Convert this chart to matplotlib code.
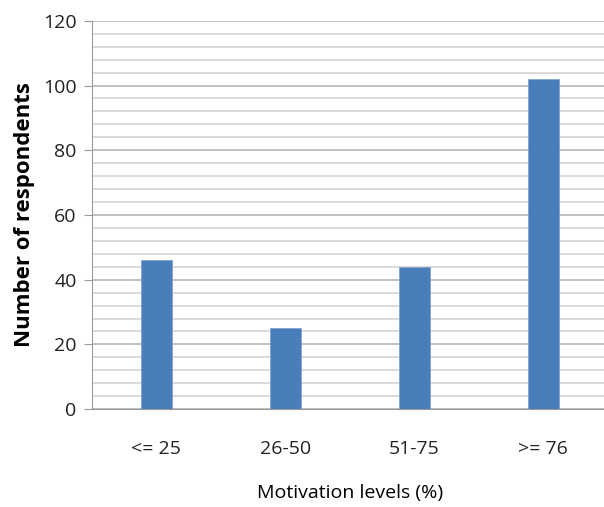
import matplotlib.pyplot as plt
from matplotlib.ticker import MultipleLocator

# data
categories = ["<= 25", "26-50", "51-75", ">= 76"]
respondents = [46, 25, 44, 102]

plt.rcParams['font.family'] = ['Open Sans', 'DejaVu Sans']

fig = plt.figure(figsize=(6.04, 5.07), dpi=100)
ax = fig.add_axes([0.152, 0.193, 0.854, 0.766])

x = range(len(categories))
ax.bar(x, respondents, width=0.24, color='#4a7ebb', edgecolor='#7fa3d0', linewidth=0.6, zorder=3)

ax.set_xlim(-0.5, 3.5)
ax.set_ylim(0, 120)
ax.yaxis.set_major_locator(MultipleLocator(20))
ax.yaxis.set_minor_locator(MultipleLocator(4))
ax.grid(axis='y', which='major', color='#c0c0c0', linewidth=1.4, zorder=0)
ax.grid(axis='y', which='minor', color='#dadada', linewidth=1.4, zorder=0)

ax.set_xticks(list(x))
ax.set_xticklabels(categories, fontsize=14, color='#222222')
ax.tick_params(axis='x', length=0, pad=22)
ax.tick_params(axis='y', which='major', length=6, color='#999999', labelsize=14, labelcolor='#222222', pad=5)
ax.tick_params(axis='y', which='minor', length=0)

for s in ['top', 'right']:
    ax.spines[s].set_visible(False)
ax.spines['left'].set_color('#999999')
ax.spines['bottom'].set_color('#999999')

ax.set_ylabel('Number of respondents', fontsize=16, fontweight='bold', labelpad=6)
ax.set_xlabel('Motivation levels (%)', fontsize=14, labelpad=19)

fig.savefig('out.png', dpi=100, facecolor='white')
